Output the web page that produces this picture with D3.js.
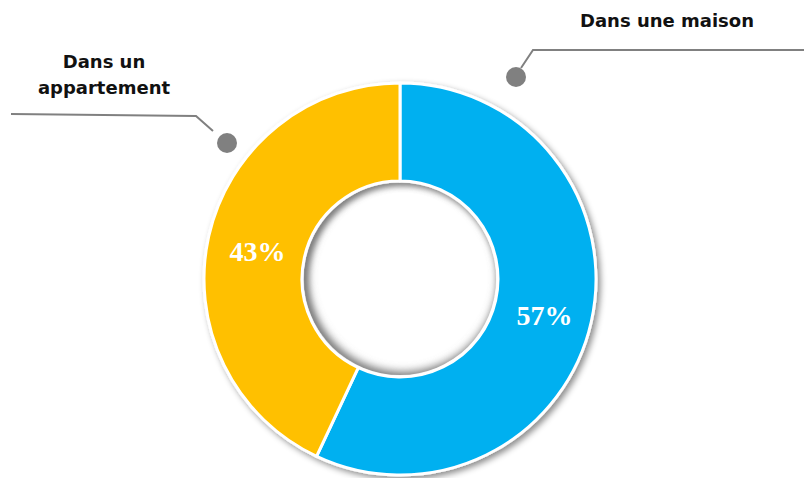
<!DOCTYPE html>
<html>
<head>
<meta charset="utf-8">
<script src="https://cdn.jsdelivr.net/npm/d3@7"></script>
<style>
  body { margin: 0; background: #fff; }
  .cat { font-family: "DejaVu Sans", sans-serif; font-weight: bold; fill: #111; }
  .pct { font-family: "Liberation Serif", "DejaVu Serif", serif; font-weight: bold; fill: #fff; }
</style>
</head>
<body>
<div id="chart"></div>
<script>
const categories = ["Dans une maison", "Dans un appartement"];
const values = [57, 43];
const colors = ["#00B0F0", "#FFC000"];

let width = 804,
    height = 478;

let cx = 400, cy = 279,
    rOuter = 196, rInner = 98;

let svg = d3.select("#chart").append("svg")
  .attr("width", width)
  .attr("height", height);

let defs = svg.append("defs");

defs.append("filter")
  .attr("id", "shadow")
  .attr("x", "-20%").attr("y", "-20%")
  .attr("width", "140%").attr("height", "140%")
  .append("feDropShadow")
    .attr("dx", 3).attr("dy", 3)
    .attr("stdDeviation", 3)
    .attr("flood-color", "#000")
    .attr("flood-opacity", 0.45);

defs.append("filter")
  .attr("id", "blur")
  .append("feGaussianBlur")
    .attr("stdDeviation", 4);

defs.append("clipPath")
  .attr("id", "hole")
  .append("circle")
    .attr("r", rInner - 2);

let g = svg.append("g")
  .attr("transform", `translate(${cx},${cy})`);

let pie = d3.pie().sort(null).value(d => d);
let arc = d3.arc().innerRadius(rInner).outerRadius(rOuter);

let arcs = pie(values);

g.append("g")
  .attr("filter", "url(#shadow)")
  .selectAll("path")
  .data(arcs)
  .enter().append("path")
    .attr("d", arc)
    .attr("fill", (d, i) => colors[i])
    .attr("stroke", "#fff")
    .attr("stroke-width", 3)
    .attr("stroke-linejoin", "round");

// inset shadow in the hole
g.append("g")
  .attr("clip-path", "url(#hole)")
  .append("circle")
    .attr("cx", 3).attr("cy", -2)
    .attr("r", rInner + 2)
    .attr("fill", "none")
    .attr("stroke", "#777")
    .attr("stroke-width", 10)
    .attr("filter", "url(#blur)");

g.selectAll(".pct")
  .data(arcs)
  .enter().append("text")
    .attr("class", "pct")
    .attr("transform", d => { let c = arc.centroid(d); return `translate(${c[0] + 1},${c[1] + 4})`; })
    .attr("text-anchor", "middle")
    .attr("dy", "0.35em")
    .attr("font-size", 28)
    .text(d => d.data + "%");

// leader callouts
let line = d3.line();
let callouts = [
  { pts: [[804, 50], [533, 50], [521, 68]], dot: [516, 77], text: [categories[0]], tx: 667, ty: 27 },
  { pts: [[11, 114], [196, 116], [213, 131]], dot: [227, 143], text: ["Dans un", "appartement"], tx: 104, ty: 68 }
];

callouts.forEach(c => {
  svg.append("path")
    .attr("d", line(c.pts))
    .attr("fill", "none")
    .attr("stroke", "#808080")
    .attr("stroke-width", 2);
  svg.append("circle")
    .attr("cx", c.dot[0]).attr("cy", c.dot[1])
    .attr("r", 10)
    .attr("fill", "#808080");
  let t = svg.append("text")
    .attr("class", "cat")
    .attr("text-anchor", "middle")
    .attr("font-size", 18)
    .attr("x", c.tx).attr("y", c.ty);
  c.text.forEach((s, i) => {
    t.append("tspan")
      .attr("x", c.tx)
      .attr("dy", i ? 26 : 0)
      .text(s);
  });
});
</script>
</body>
</html>
